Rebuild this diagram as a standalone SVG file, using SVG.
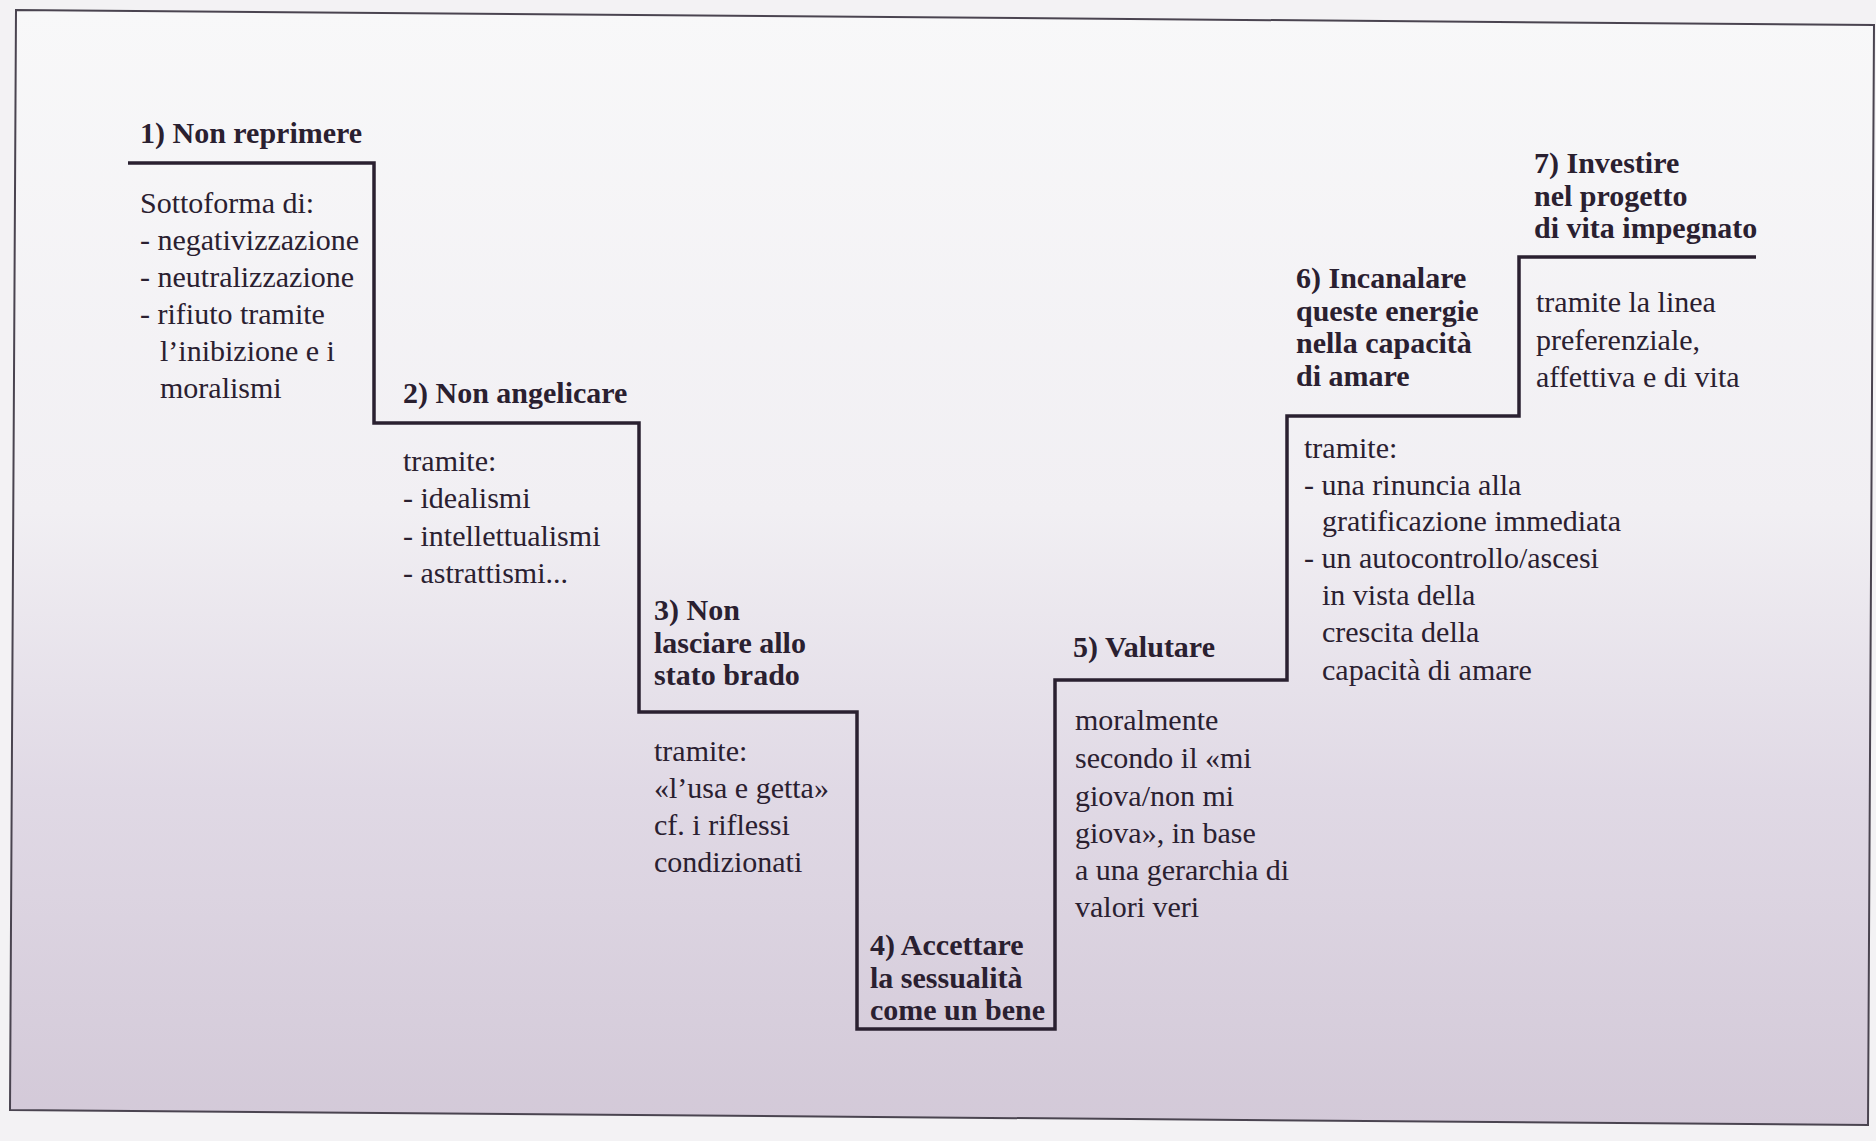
<svg xmlns="http://www.w3.org/2000/svg" width="1876" height="1141" viewBox="0 0 1876 1141">
<defs>
<linearGradient id="bg" x1="0" y1="0" x2="0" y2="1">
<stop offset="0" stop-color="#f8f8f9"/>
<stop offset="0.45" stop-color="#f1eff3"/>
<stop offset="0.7" stop-color="#e0d9e5"/>
<stop offset="1" stop-color="#d3c9d8"/>
</linearGradient>
<style>
text{font-family:"Liberation Serif","Times New Roman",serif;font-size:30px;fill:#2a2030}
.t{font-weight:bold}
.stair{fill:none;stroke:#2a2030;stroke-width:3.5;stroke-linejoin:miter}
.frame{fill:url(#bg);stroke:#4a4450;stroke-width:2}
</style>
</defs>
<rect width="1876" height="1141" fill="#f3f2f4"/>
<polygon class="frame" points="16,10 1874,25 1868,1125 10,1110"/>
<g id="connectors">
<path class="stair" d="M128,163 H374 V423 H639 V712 H857 V1029 H1055 V680 H1287 V416 H1519 V257 H1756"/>
</g>
<g id="step1">
<text class="t" x="140" y="143">1) Non reprimere</text>
<text x="140" y="213">Sottoforma di:</text>
<text x="140" y="250">- negativizzazione</text>
<text x="140" y="287">- neutralizzazione</text>
<text x="140" y="324">- rifiuto tramite</text>
<text x="160" y="361">l’inibizione e i</text>
<text x="160" y="398">moralismi</text>
</g>
<g id="step2">
<text class="t" x="403" y="403">2) Non angelicare</text>
<text x="403" y="471">tramite:</text>
<text x="403" y="508">- idealismi</text>
<text x="403" y="546">- intellettualismi</text>
<text x="403" y="583">- astrattismi...</text>
</g>
<g id="step3">
<text class="t" x="654" y="620">3) Non</text>
<text class="t" x="654" y="653">lasciare allo</text>
<text class="t" x="654" y="685">stato brado</text>
<text x="654" y="761">tramite:</text>
<text x="654" y="798">«l’usa e getta»</text>
<text x="654" y="835">cf. i riflessi</text>
<text x="654" y="872">condizionati</text>
</g>
<g id="step4">
<text class="t" x="870" y="955">4) Accettare</text>
<text class="t" x="870" y="988">la sessualità</text>
<text class="t" x="870" y="1020">come un bene</text>
</g>
<g id="step5">
<text class="t" x="1073" y="657">5) Valutare</text>
<text x="1075" y="730">moralmente</text>
<text x="1075" y="768">secondo il «mi</text>
<text x="1075" y="806">giova/non mi</text>
<text x="1075" y="843">giova», in base</text>
<text x="1075" y="880">a una gerarchia di</text>
<text x="1075" y="917">valori veri</text>
</g>
<g id="step6">
<text class="t" x="1296" y="288">6) Incanalare</text>
<text class="t" x="1296" y="321">queste energie</text>
<text class="t" x="1296" y="353">nella capacità</text>
<text class="t" x="1296" y="386">di amare</text>
<text x="1304" y="458">tramite:</text>
<text x="1304" y="495">- una rinuncia alla</text>
<text x="1322" y="531">gratificazione immediata</text>
<text x="1304" y="568">- un autocontrollo/ascesi</text>
<text x="1322" y="605">in vista della</text>
<text x="1322" y="642">crescita della</text>
<text x="1322" y="680">capacità di amare</text>
</g>
<g id="step7">
<text class="t" x="1534" y="173">7) Investire</text>
<text class="t" x="1534" y="206">nel progetto</text>
<text class="t" x="1534" y="238">di vita impegnato</text>
<text x="1536" y="312">tramite la linea</text>
<text x="1536" y="350">preferenziale,</text>
<text x="1536" y="387">affettiva e di vita</text>
</g>
</svg>
